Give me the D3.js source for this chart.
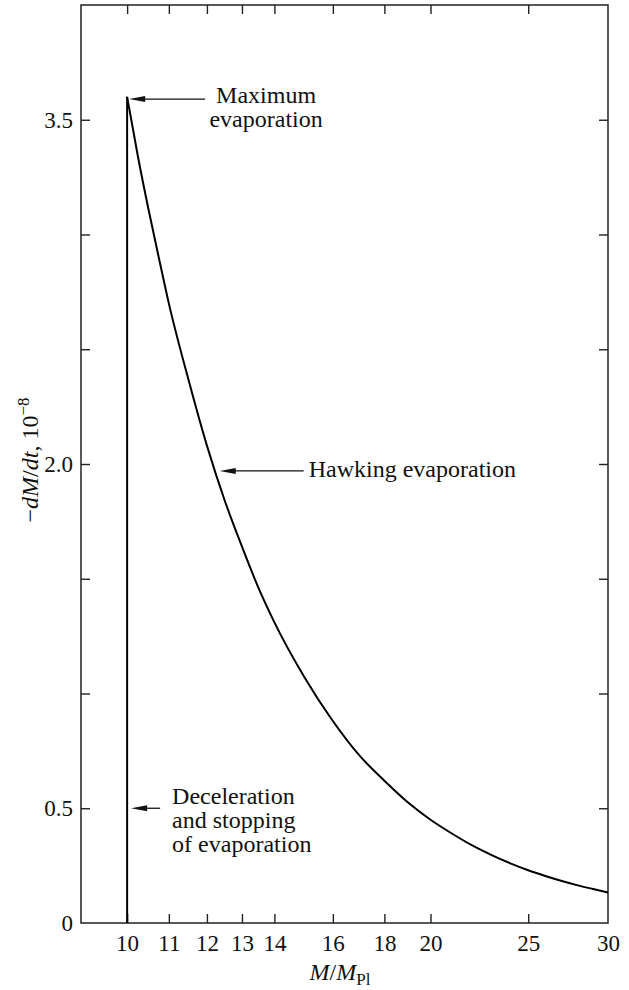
<!DOCTYPE html>
<html>
<head>
<meta charset="utf-8">
<script src="https://cdn.jsdelivr.net/npm/d3@7"></script>
<style>
  body { margin: 0; background: #fff; }
  text { font-family: "Liberation Serif", "Times New Roman", serif; fill: #111; }
</style>
</head>
<body>
<div id="chart"></div>
<script>
// Data
var massTicks = [10, 11, 12, 13, 14, 16, 18, 20, 25, 30];
var rateTicks = [0, 0.5, 1.0, 1.5, 2.0, 2.5, 3.0, 3.5];
var rateLabels = { "0": "0", "0.5": "0.5", "2": "2.0", "3.5": "3.5" };

// vertical drop at M = 10 (deceleration and stopping)
var dropMass = [10, 10];
var dropRate = [0, 3.6];

// Hawking branch
var hawkMass = [10, 10.25, 10.5, 10.75, 11, 11.5, 12, 12.5, 13, 13.5, 14, 15, 16, 17, 18, 19, 20,
                21, 22, 23, 24, 25, 26, 27, 28, 29, 30];
var hawkRate = [3.6, 3.34, 3.11, 2.90, 2.70, 2.37, 2.08, 1.84, 1.64, 1.46, 1.31, 1.07, 0.88, 0.73, 0.62, 0.525, 0.45,
                0.39, 0.338, 0.296, 0.26, 0.23, 0.205, 0.183, 0.164, 0.148, 0.133];

var notes = [
  { lines: ["Maximum", "evaporation"], m: 10, r: 3.59 },
  { lines: ["Hawking evaporation"], m: 12.3, r: 1.97 },
  { lines: ["Deceleration", "and stopping", "of evaporation"], m: 10, r: 0.5 }
];

var W = 629, H = 990;
var margin = { top: 5, right: 21, bottom: 67, left: 81 };

var svg = d3.select("#chart").append("svg")
  .attr("width", W)
  .attr("height", H);

var x = d3.scaleLog()
  .domain([9, 30])
  .range([margin.left, W - margin.right]);

var y = d3.scaleLinear()
  .domain([0, 4])
  .range([H - margin.bottom, margin.top]);

var tickLen = 9;

// frame
svg.append("rect")
  .attr("x", x(9)).attr("y", y(4))
  .attr("width", x(30) - x(9)).attr("height", y(0) - y(4))
  .attr("fill", "none").attr("stroke", "#222").attr("stroke-width", 1.5);

function styleAxis(g) {
  g.select(".domain").remove();
  g.selectAll(".tick line").attr("stroke", "#222").attr("stroke-width", 1.4);
}

// bottom axis with labels
svg.append("g")
  .attr("transform", "translate(0," + y(0) + ")")
  .call(d3.axisBottom(x).tickValues(massTicks).tickSize(-tickLen).tickPadding(12)
    .tickFormat(function (d) { return d; }))
  .call(styleAxis)
  .call(function (g) {
    g.selectAll(".tick text").style("font-size", "23px").attr("fill", "#111");
    g.selectAll(".tick").filter(function (d) { return d === 30; }).select("line").remove();
  });

// top axis, ticks only
svg.append("g")
  .attr("transform", "translate(0," + y(4) + ")")
  .call(d3.axisTop(x).tickValues(massTicks.filter(function (d) { return d < 30; }))
    .tickSize(-tickLen).tickFormat(""))
  .call(styleAxis);

// left axis
svg.append("g")
  .attr("transform", "translate(" + x(9) + ",0)")
  .call(d3.axisLeft(y).tickValues(rateTicks).tickSize(-tickLen).tickPadding(8)
    .tickFormat(function (d) { return rateLabels[String(d)] || ""; }))
  .call(styleAxis)
  .call(function (g) {
    g.selectAll(".tick text").style("font-size", "23px").attr("fill", "#111");
    g.selectAll(".tick").filter(function (d) { return d === 0; }).select("line").remove();
  });

// right axis
svg.append("g")
  .attr("transform", "translate(" + x(30) + ",0)")
  .call(d3.axisRight(y).tickValues(rateTicks.filter(function (d) { return d > 0; }))
    .tickSize(-tickLen).tickFormat(""))
  .call(styleAxis);

// curves
var line = d3.line()
  .x(function (d) { return x(d[0]); })
  .y(function (d) { return y(d[1]); });

svg.append("path")
  .datum(d3.zip(dropMass, dropRate))
  .attr("d", line)
  .attr("fill", "none").attr("stroke", "#000").attr("stroke-width", 2);

svg.append("path")
  .datum(d3.zip(hawkMass, hawkRate))
  .attr("d", line.curve(d3.curveMonotoneX))
  .attr("fill", "none").attr("stroke", "#000").attr("stroke-width", 2)
  .attr("stroke-linejoin", "round");

// annotations: arrow pointing left to the curve, text to the right
function arrow(tx, ty, len) {
  svg.append("line")
    .attr("x1", tx + 10).attr("y1", ty)
    .attr("x2", tx + len).attr("y2", ty)
    .attr("stroke", "#111").attr("stroke-width", 1.3);
  svg.append("path")
    .attr("d", "M" + tx + "," + ty + "L" + (tx + 16) + "," + (ty - 3) + "L" + (tx + 16) + "," + (ty + 3) + "Z")
    .attr("fill", "#111");
}

var fs = 24;

// Maximum evaporation
var n0 = notes[0];
var t0x = x(n0.m) + 2, t0y = y(n0.r);
arrow(t0x, t0y, 76);
n0.lines.forEach(function (s, i) {
  svg.append("text")
    .attr("x", t0x + 137).attr("y", t0y + 4 + i * 24)
    .attr("text-anchor", "middle")
    .style("font-size", fs + "px")
    .text(s);
});

// Hawking evaporation
var n1 = notes[1];
var t1x = x(n1.m) + 2, t1y = y(n1.r);
arrow(t1x, t1y, 84);
svg.append("text")
  .attr("x", t1x + 89).attr("y", t1y + 6)
  .style("font-size", fs + "px")
  .text(n1.lines[0]);

// Deceleration and stopping of evaporation
var n2 = notes[2];
var t2x = x(n2.m) + 4, t2y = y(n2.r);
arrow(t2x, t2y, 29);
n2.lines.forEach(function (s, i) {
  svg.append("text")
    .attr("x", t2x + 41).attr("y", t2y - 4 + i * 24)
    .style("font-size", fs + "px")
    .text(s);
});

// axis titles
var xt = svg.append("text")
  .attr("x", 340).attr("y", 980)
  .attr("text-anchor", "middle")
  .style("font-size", "24px");
xt.append("tspan").style("font-style", "italic").text("M");
xt.append("tspan").text("/");
xt.append("tspan").style("font-style", "italic").text("M");
xt.append("tspan").attr("dy", 5).style("font-size", "17px").text("Pl");

var yt = svg.append("text")
  .attr("transform", "translate(38,460) rotate(-90)")
  .attr("text-anchor", "middle")
  .style("font-size", "24px");
yt.append("tspan").text("\u2212");
yt.append("tspan").style("font-style", "italic").text("dM");
yt.append("tspan").text("/");
yt.append("tspan").style("font-style", "italic").text("dt");
yt.append("tspan").text(", 10");
yt.append("tspan").attr("dy", -9).style("font-size", "17px").text("\u22128");
</script>
</body>
</html>
